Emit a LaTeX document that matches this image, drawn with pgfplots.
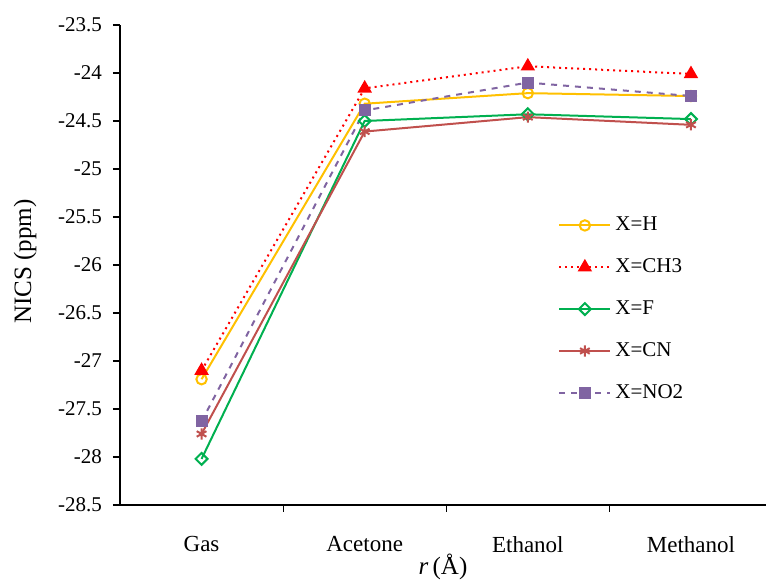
\documentclass[border=0pt]{standalone}
\usepackage{fontspec}
\setmainfont{Liberation Serif}
\usepackage{pgfplots}
\pgfplotsset{compat=1.18}
\usetikzlibrary{calc}

\definecolor{cH}{RGB}{255,192,0}
\definecolor{cCH}{RGB}{255,0,0}
\definecolor{cF}{RGB}{0,176,80}
\definecolor{cCN}{RGB}{192,80,77}
\definecolor{cNO}{RGB}{128,100,162}

\begin{document}
\begin{tikzpicture}
\begin{axis}[
    name=ax,
    scale only axis, width=323pt, height=240pt,
    xmin=-0.5, xmax=3.46, ymin=-28.5, ymax=-23.5,
    axis x line*=bottom, axis y line*=left,
    axis line style={black, line width=0.75pt, -},
    tick align=outside, major tick length=3.5pt,
    tick style={black, line width=0.6pt},
    xtick={0.5,1.5,2.5}, xticklabels={},
    extra x ticks={0,1,2,3},
    extra x tick labels={Gas,Acetone,Ethanol,Methanol},
    extra x tick style={major tick length=0pt,
        tick label style={yshift=-12pt, font=\fontsize{11.5}{13}\selectfont}},
    ytick={-28.5,-28,...,-23.5},
    ytick pos=left, xtick pos=bottom,
    /pgf/number format/.cd, fixed, assume math mode=true, /pgfplots/.cd,
    tick label style={font=\fontsize{10.5}{12}\selectfont},
    yticklabel style={xshift=-2pt},
    ylabel={NICS (ppm)},
    xlabel={\textit{r}\,(Å)},
    every axis y label/.style={at={(axis description cs:-0.147,0.507)}, rotate=90, anchor=center,
        font=\fontsize{12.5}{14}\selectfont},
    every axis x label/.style={at={(axis description cs:0.5,-0.13)}, anchor=center,
        font=\fontsize{12.5}{14}\selectfont},
    legend style={at={(axis description cs:0.678,0.609)}, anchor=north west,
        draw=none, fill=none, inner sep=0pt, row sep=8.5pt,
        font=\fontsize{10.5}{12}\selectfont, cells={anchor=west}},
    legend image code/.code={
        \draw[mark repeat=2,mark phase=2] plot coordinates {(0pt,0pt) (12.75pt,0pt) (25.5pt,0pt)};},
    every axis plot/.append style={line width=1pt},
]
\addplot[color=cH, solid, mark=o, mark size=2.6pt, mark options={solid, fill=white, line width=1pt}]
    coordinates {(0,-27.19) (1,-24.32) (2,-24.21) (3,-24.24)};
\addplot[color=cCH, dotted, mark=triangle*, mark size=3.2pt, mark options={solid}]
    coordinates {(0,-27.10) (1,-24.16) (2,-23.93) (3,-24.01)};
\addplot[color=cF, solid, mark=square, mark size=2.1pt, mark options={solid, rotate=45, fill=white, line width=1pt}]
    coordinates {(0,-28.02) (1,-24.50) (2,-24.43) (3,-24.48)};
\addplot[color=cCN, solid, mark=asterisk, mark size=2.8pt, mark options={solid}]
    coordinates {(0,-27.76) (1,-24.61) (2,-24.46) (3,-24.54)};
\addplot[color=cNO, dashed, mark=square*, mark size=2.5pt, mark options={solid}]
    coordinates {(0,-27.63) (1,-24.39) (2,-24.10) (3,-24.24)};
\legend{X=H, X=CH3, X=F, X=CN, X=NO2}
\end{axis}
\pgfresetboundingbox
\useasboundingbox ([shift={(-60pt,-38pt)}]ax.south west) rectangle ([shift={(0pt,12.5pt)}]ax.north east);
\end{tikzpicture}
\end{document}
